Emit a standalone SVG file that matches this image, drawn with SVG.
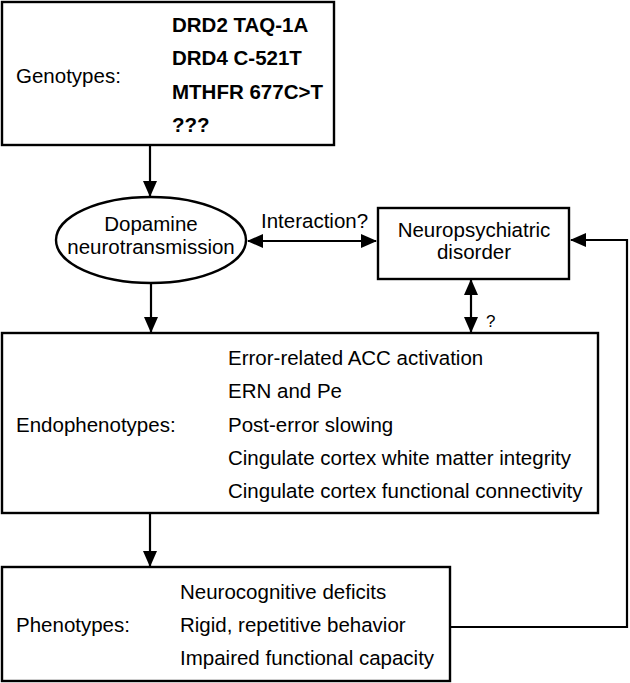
<svg xmlns="http://www.w3.org/2000/svg" width="630" height="683" viewBox="0 0 630 683">
<style>
.box{fill:#fff;stroke:#000;stroke-width:2.4}
.ln{fill:none;stroke:#000;stroke-width:2.2}
text{font-family:"Liberation Sans",Arial,sans-serif;font-size:20.5px;fill:#000}
.b{font-weight:bold}
.c{text-anchor:middle}
</style>
<defs>
<marker id="ah" viewBox="0 0 16 14" refX="15" refY="7" markerWidth="16" markerHeight="14" markerUnits="userSpaceOnUse" orient="auto-start-reverse">
<path d="M0,0 L16,7 L0,14 Z" fill="#000"/>
</marker>
</defs>
<rect width="630" height="683" fill="#fff"/>
<g id="connectors">
<line class="ln" x1="150" y1="145" x2="150" y2="196" marker-end="url(#ah)"/>
<line class="ln" x1="248" y1="241" x2="376" y2="241" marker-start="url(#ah)" marker-end="url(#ah)"/>
<line class="ln" x1="151" y1="283" x2="151" y2="332" marker-end="url(#ah)"/>
<line class="ln" x1="471" y1="280" x2="471" y2="332" marker-start="url(#ah)" marker-end="url(#ah)"/>
<line class="ln" x1="150" y1="513" x2="150" y2="566" marker-end="url(#ah)"/>
<polyline class="ln" points="450,627 627,627 627,240 571,240" marker-end="url(#ah)"/>
<text x="261" y="228">Interaction?</text>
<text x="486" y="327" style="font-size:17px">?</text>
</g>
<g id="genotypes">
<rect class="box" x="2" y="2" width="332" height="143"/>
<text x="16" y="83">Genotypes:</text>
<text class="b" x="172" y="32">DRD2 TAQ-1A</text>
<text class="b" x="172" y="65">DRD4 C-521T</text>
<text class="b" x="172" y="99">MTHFR 677C&gt;T</text>
<text class="b" x="172" y="132">???</text>
</g>
<g id="dopamine">
<ellipse class="box" cx="151" cy="240" rx="95" ry="43"/>
<text class="c" x="151" y="231">Dopamine</text>
<text class="c" x="151" y="254">neurotransmission</text>
</g>
<g id="disorder">
<rect class="box" x="378" y="208" width="191" height="71"/>
<text class="c" x="474" y="237">Neuropsychiatric</text>
<text class="c" x="474" y="259">disorder</text>
</g>
<g id="endophenotypes">
<rect class="box" x="2" y="333" width="596" height="180"/>
<text x="16" y="432">Endophenotypes:</text>
<text x="228" y="365">Error-related ACC activation</text>
<text x="228" y="398">ERN and Pe</text>
<text x="228" y="432">Post-error slowing</text>
<text x="228" y="465">Cingulate cortex white matter integrity</text>
<text x="228" y="498">Cingulate cortex functional connectivity</text>
</g>
<g id="phenotypes">
<rect class="box" x="2" y="567" width="448" height="114"/>
<text x="16" y="632">Phenotypes:</text>
<text x="180" y="599">Neurocognitive deficits</text>
<text x="180" y="632">Rigid, repetitive behavior</text>
<text x="180" y="665">Impaired functional capacity</text>
</g>
</svg>
